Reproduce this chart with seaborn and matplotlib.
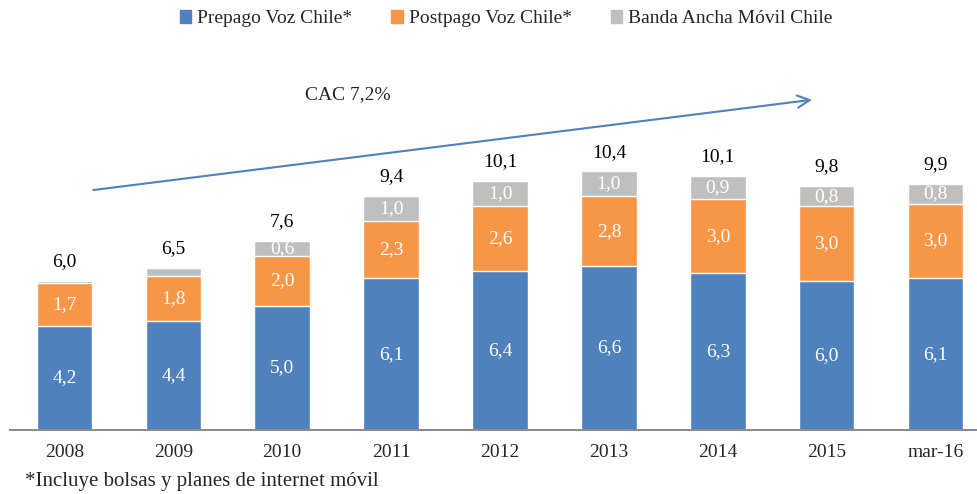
import numpy as np
import pandas as pd
import matplotlib.pyplot as plt
import seaborn as sns

periodos = ["2008", "2009", "2010", "2011", "2012", "2013", "2014", "2015", "mar-16"]
prepago = [4.2, 4.4, 5.0, 6.1, 6.4, 6.6, 6.3, 6.0, 6.1]
postpago = [1.7, 1.8, 2.0, 2.3, 2.6, 2.8, 3.0, 3.0, 3.0]
bam = [0.1, 0.3, 0.6, 1.0, 1.0, 1.0, 0.9, 0.8, 0.8]
totales = [6.0, 6.5, 7.6, 9.4, 10.1, 10.4, 10.1, 9.8, 9.9]

azul = "#4F81BD"
naranjo = "#F79646"
gris = "#BFBFBF"

sns.set_style("white")
plt.rcParams["font.family"] = ["Liberation Serif", "DejaVu Serif"]

df = pd.DataFrame({"periodo": periodos, "prepago": prepago, "postpago": postpago, "bam": bam})
df["pre_post"] = df["prepago"] + df["postpago"]
df["total"] = df["pre_post"] + df["bam"]

fig = plt.figure(figsize=(9.77, 4.94), dpi=100)
ax = fig.add_axes([0.0102, 0.1296, 0.9898, 0.8704])

# stacked bars drawn as overlapping cumulative layers
sns.barplot(data=df, x="periodo", y="total", color=gris, saturation=1, width=0.51, ax=ax)
sns.barplot(data=df, x="periodo", y="pre_post", color=naranjo, saturation=1, width=0.51, ax=ax)
sns.barplot(data=df, x="periodo", y="prepago", color=azul, saturation=1, width=0.51, ax=ax)

fs = 14

# segment labels
for i in range(len(periodos)):
    ax.text(i, prepago[i] / 2, f"{prepago[i]:.1f}".replace(".", ","), ha="center", va="center",
            color="white", fontsize=fs)
    ax.text(i, prepago[i] + postpago[i] / 2, f"{postpago[i]:.1f}".replace(".", ","), ha="center",
            va="center", color="white", fontsize=fs)
    if bam[i] >= 0.5:
        ax.text(i, prepago[i] + postpago[i] + bam[i] / 2, f"{bam[i]:.1f}".replace(".", ","),
                ha="center", va="center", color="white", fontsize=fs)
    ax.text(i, df["total"][i] + 0.78, f"{totales[i]:.1f}".replace(".", ","), ha="center",
            va="center", color="black", fontsize=fs)

# CAC arrow
ax.annotate("", xy=(6.89, 13.3), xytext=(0.24, 9.64),
            arrowprops=dict(arrowstyle="->", color=azul, lw=1.5, mutation_scale=22))
ax.text(2.6, 13.5, "CAC 7,2%", ha="center", va="center", fontsize=fs)

ax.set_xlim(-0.5, 8.38)
ax.set_ylim(0, 17.3)
ax.set_xlabel("")
ax.set_ylabel("")
ax.set_yticks([])
ax.tick_params(axis="x", length=0, labelsize=fs, pad=10)
for s in ["top", "right", "left"]:
    ax.spines[s].set_visible(False)
ax.spines["bottom"].set_color("#8C8C8C")
ax.spines["bottom"].set_linewidth(1.5)

handles = [plt.Rectangle((0, 0), 1, 1, color=c) for c in (azul, naranjo, gris)]
fig.legend(handles, ["Prepago Voz Chile*", "Postpago Voz Chile*", "Banda Ancha Móvil Chile"],
           loc="center", bbox_to_anchor=(0.518, 0.962), ncol=3, frameon=False, fontsize=fs,
           handlelength=0.6, handleheight=0.6, handletextpad=0.3, columnspacing=2.0)

fig.text(0.026, 0.025, "*Incluye bolsas y planes de internet móvil", fontsize=15, ha="left", va="center")

fig.savefig("out.png", dpi=100)
